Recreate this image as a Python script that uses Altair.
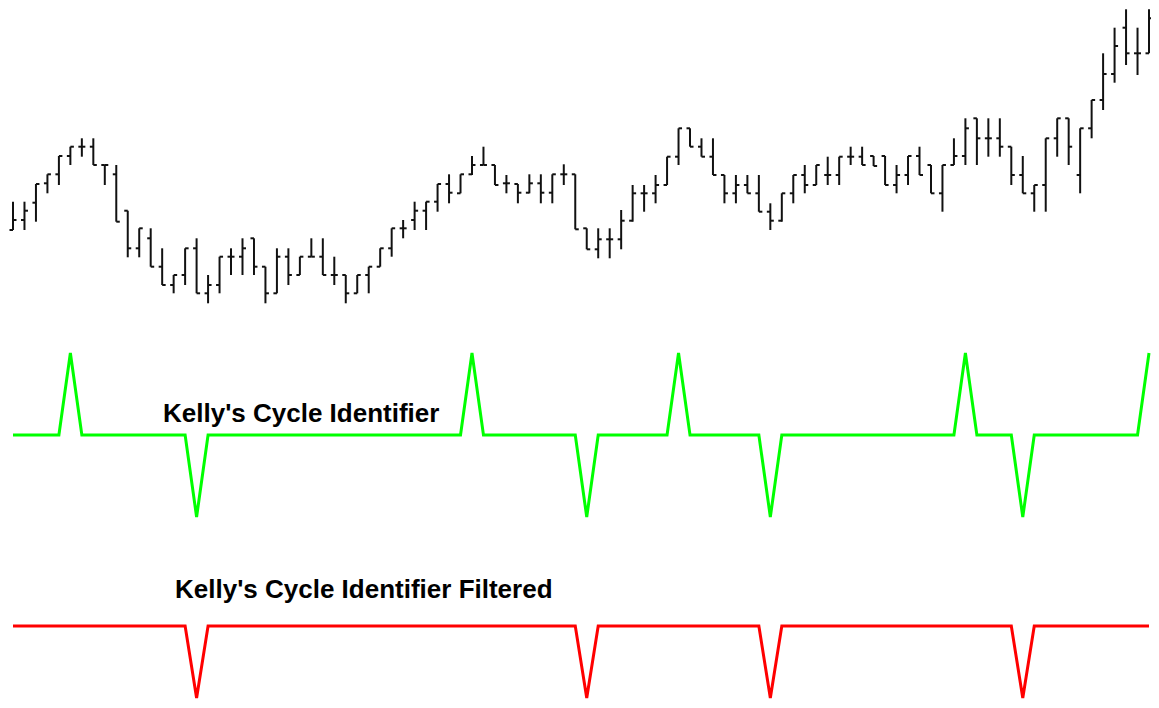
import altair as alt
import pandas as pd

# ---------------- data ----------------
bar_index = list(range(100))

high = [118.3, 118.3, 136.0, 145.7, 164.0, 173.3, 181.7, 181.7, 155.0, 155.0,
        109.3, 91.7, 91.7, 71.7, 45.0, 71.7, 81.7, 45.0, 63.3, 71.7,
        81.7, 81.7, 53.3, 71.7, 71.7, 63.3, 81.7, 81.7, 63.3, 45.0,
        45.0, 53.3, 71.7, 91.7, 100.0, 118.3, 118.3, 136.0, 145.7, 145.7,
        164.0, 173.3, 155.0, 145.0, 136.0, 145.7, 145.7, 145.7, 155.7, 145.7,
        91.7, 91.7, 91.7, 110.0, 135.0, 135.0, 145.0, 163.3, 191.7, 191.7,
        181.7, 181.7, 145.0, 145.0, 145.0, 145.0, 116.7, 126.7, 145.0, 155.0,
        155.0, 163.3, 163.3, 173.3, 173.3, 164.0, 164.0, 155.0, 164.0, 173.3,
        155.0, 155.0, 181.7, 201.7, 201.7, 201.7, 201.7, 173.3, 164.0, 135.0,
        181.7, 201.7, 201.7, 191.7, 220.0, 266.7, 292.3, 310.7, 292.3, 310.7]

low = [90.0, 90.0, 98.3, 126.7, 135.0, 155.0, 163.3, 155.0, 135.0, 98.3,
       62.7, 62.7, 53.3, 35.0, 26.7, 35.0, 26.7, 16.7, 26.7, 45.0,
       45.0, 45.0, 16.7, 26.7, 35.0, 45.0, 63.3, 45.0, 35.0, 16.7,
       26.7, 26.7, 53.3, 63.3, 81.7, 90.0, 90.0, 108.3, 116.7, 126.7,
       145.0, 155.0, 135.0, 126.7, 116.7, 126.7, 116.7, 116.7, 135.0, 90.7,
       70.7, 61.7, 61.7, 70.7, 98.3, 108.3, 116.7, 135.0, 155.0, 173.3,
       163.3, 145.0, 116.7, 116.7, 126.7, 108.3, 90.0, 98.3, 116.7, 126.7,
       135.0, 135.0, 135.0, 155.0, 155.0, 154.0, 135.0, 126.7, 135.0, 145.0,
       126.7, 108.3, 155.0, 155.0, 155.0, 163.3, 163.3, 135.0, 126.7, 108.3,
       108.3, 163.3, 155.0, 126.7, 181.7, 210.0, 237.3, 255.0, 245.0, 266.7]

open_ = [90.0, 100.0, 117.3, 136.7, 145.7, 164.0, 173.3, 173.3, 155.0, 145.7,
         109.3, 71.7, 81.7, 53.3, 35.0, 45.0, 71.7, 26.7, 35.0, 63.3,
         63.3, 81.7, 53.3, 26.7, 63.3, 45.0, 63.3, 63.3, 45.0, 45.0,
         26.7, 45.0, 53.3, 71.7, 91.7, 100.0, 109.3, 118.3, 136.0, 126.7,
         145.7, 155.0, 155.0, 136.7, 136.0, 127.3, 136.7, 127.3, 145.7, 145.7,
         91.7, 70.7, 80.7, 80.7, 99.3, 126.7, 126.7, 135.0, 163.3, 191.7,
         173.3, 163.3, 145.0, 126.7, 135.0, 126.7, 108.3, 99.3, 126.7, 145.0,
         135.0, 145.0, 145.0, 163.3, 163.3, 164.0, 164.0, 135.0, 145.0, 164.0,
         155.0, 126.7, 155.0, 164.0, 201.7, 181.7, 181.7, 173.3, 145.0, 126.7,
         135.0, 181.7, 201.7, 145.0, 191.7, 220.0, 246.0, 292.3, 266.7, 266.7]

close = [100.0, 109.3, 136.0, 145.7, 164.0, 173.3, 173.3, 155.0, 155.0, 98.3,
         71.7, 91.7, 53.3, 35.0, 45.0, 71.7, 26.7, 35.0, 63.3, 63.3,
         71.7, 53.3, 26.7, 63.3, 45.0, 63.3, 63.3, 45.0, 45.0, 26.7,
         45.0, 53.3, 71.7, 91.7, 91.7, 109.3, 118.3, 136.0, 127.3, 145.7,
         155.0, 155.0, 135.0, 136.7, 127.3, 136.7, 127.3, 145.7, 145.7, 90.7,
         70.7, 80.7, 80.7, 99.3, 126.7, 126.7, 135.0, 163.3, 191.7, 173.3,
         163.3, 145.0, 126.7, 135.0, 126.7, 108.3, 99.3, 126.7, 145.0, 135.0,
         155.0, 145.0, 163.3, 163.3, 155.0, 154.0, 135.0, 145.0, 164.0, 145.0,
         126.7, 155.0, 164.0, 191.7, 181.7, 181.7, 173.3, 145.0, 126.7, 135.0,
         181.7, 201.7, 173.3, 191.7, 220.0, 246.0, 274.0, 266.7, 266.7, 301.7]

cycle = [0, 0, 0, 0, 0, 1, 0, 0, 0, 0,
         0, 0, 0, 0, 0, 0, -1, 0, 0, 0,
         0, 0, 0, 0, 0, 0, 0, 0, 0, 0,
         0, 0, 0, 0, 0, 0, 0, 0, 0, 0,
         1, 0, 0, 0, 0, 0, 0, 0, 0, 0,
         -1, 0, 0, 0, 0, 0, 0, 0, 1, 0,
         0, 0, 0, 0, 0, 0, -1, 0, 0, 0,
         0, 0, 0, 0, 0, 0, 0, 0, 0, 0,
         0, 0, 0, 1, 0, 0, 0, 0, -1, 0,
         0, 0, 0, 0, 0, 0, 0, 0, 0, 1]

cycle_filtered = [0, 0, 0, 0, 0, 0, 0, 0, 0, 0,
                  0, 0, 0, 0, 0, 0, -1, 0, 0, 0,
                  0, 0, 0, 0, 0, 0, 0, 0, 0, 0,
                  0, 0, 0, 0, 0, 0, 0, 0, 0, 0,
                  0, 0, 0, 0, 0, 0, 0, 0, 0, 0,
                  -1, 0, 0, 0, 0, 0, 0, 0, 0, 0,
                  0, 0, 0, 0, 0, 0, -1, 0, 0, 0,
                  0, 0, 0, 0, 0, 0, 0, 0, 0, 0,
                  0, 0, 0, 0, 0, 0, 0, 0, -1, 0,
                  0, 0, 0, 0, 0, 0, 0, 0, 0, 0]

labels = ["Kelly's Cycle Identifier", "Kelly's Cycle Identifier Filtered"]

# ---------------- chart ----------------
W, H = 1143, 692

ohlc = pd.DataFrame({"i": bar_index, "high": high, "low": low,
                     "open": open_, "close": close})
ind = pd.DataFrame({"i": bar_index, "kci": cycle, "kcif": cycle_filtered})

x_enc = alt.X("i:Q", scale=alt.Scale(domain=[0, 99], range=[5, 1141],
                                     nice=False, zero=False), axis=None)
price_scale = alt.Scale(domain=[0, 320], range=[312, -8], nice=False, zero=False)

base = alt.Chart(ohlc)
hl = base.mark_rule(color="#111111", strokeWidth=2).encode(
    x=x_enc,
    y=alt.Y("high:Q", scale=price_scale, axis=None),
    y2="low:Q",
)
op = base.mark_rule(color="#111111", strokeWidth=2, xOffset=-3.5, x2Offset=0).encode(
    x=x_enc, x2="i:Q",
    y=alt.Y("open:Q", scale=price_scale, axis=None),
)
cl = base.mark_rule(color="#111111", strokeWidth=2, xOffset=0, x2Offset=3.5).encode(
    x=x_enc, x2="i:Q",
    y=alt.Y("close:Q", scale=price_scale, axis=None),
)

green = alt.Chart(ind).mark_line(color="#00ff00", strokeWidth=3).encode(
    x=x_enc,
    y=alt.Y("kci:Q", scale=alt.Scale(domain=[-1, 1], range=[509, 345],
                                     nice=False, zero=False), axis=None),
)
red = alt.Chart(ind).mark_line(color="#ff0000", strokeWidth=3).encode(
    x=x_enc,
    y=alt.Y("kcif:Q", scale=alt.Scale(domain=[-1, 0], range=[690, 618],
                                      nice=False, zero=False), axis=None),
)

txt_style = dict(align="left", baseline="alphabetic", font="Liberation Sans",
                 fontSize=26, fontWeight="bold", color="black")
t1 = alt.Chart(pd.DataFrame({"label": [labels[0]]})).mark_text(**txt_style).encode(
    x=alt.value(155), y=alt.value(414), text="label:N")
t2 = alt.Chart(pd.DataFrame({"label": [labels[1]]})).mark_text(**txt_style).encode(
    x=alt.value(167), y=alt.value(590), text="label:N")

chart = alt.layer(hl, op, cl, green, red, t1, t2).resolve_scale(
    y="independent"
).properties(
    width=W, height=H,
    autosize=alt.AutoSizeParams(type="none"),
    padding=0,
    background="white",
).configure_view(stroke=None)

chart.save("out.html", embed_options={"renderer": "svg", "actions": False})
